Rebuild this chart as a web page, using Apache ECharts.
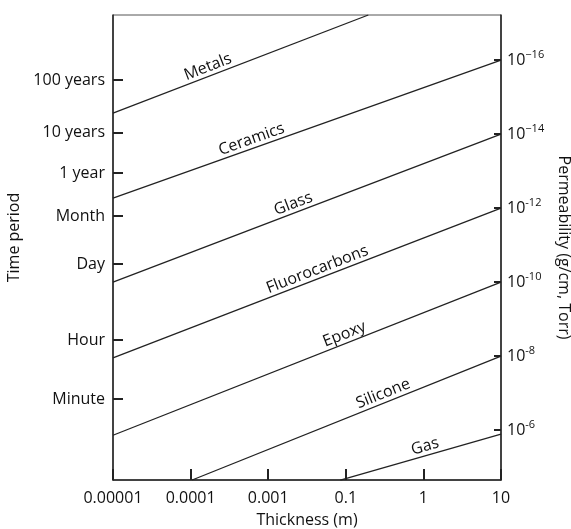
<!DOCTYPE html>
<html>
<head>
<meta charset="utf-8">
<script src="https://cdn.jsdelivr.net/npm/echarts@6/dist/echarts.min.js"></script>
<style>
  html, body { margin: 0; padding: 0; background: #fff; }
  #chart { width: 571px; height: 529px; }
</style>
</head>
<body>
<div id="chart"></div>
<script>
// thickness tick labels (evenly spaced, as in the figure)
const thicknessLabels = ['0.00001', '0.0001', '0.001', '0.1', '1', '10']
// left axis: time period, positioned on the permeability exponent scale
const timeLabels = ['100 years', '10 years', '1 year', 'Month', 'Day', 'Hour', 'Minute']
const timeTicks = [15.46, 14.05, 12.95, 11.78, 10.49, 8.43, 6.84]
// right axis: permeability exponent (10^-n)
const permTicks = [16, 14, 12, 10, 8, 6]
const permLabels = ['−16', '−14', '-12', '-10', '-8', '-6']

const materials = ['Metals', 'Ceramics', 'Glass', 'Fluorocarbons', 'Epoxy', 'Silicone', 'Gas']
// each line: [thickness index, exponent] at start and end
const lineStart = [[0, 14.57], [0, 12.27], [0, 10.0], [0, 7.95], [0, 5.86], [1.02, 4.65], [2.93, 4.65]]
const lineEnd = [[3.29, 17.22], [5, 16], [5, 14], [5, 12], [5, 10], [5, 8], [5, 5.89]]
// where along the thickness axis each name sits
const labelAt = [1.26, 1.82, 2.36, 2.67, 3.02, 3.52, 4.05]

const yMin = 4.65
const yMax = 17.22
const ink = '#222'
const font = '"Open Sans", sans-serif'

const myChart = echarts.init(document.getElementById('chart'))

const pointOn = (i, x) => {
  const a = lineStart[i], b = lineEnd[i]
  return [x, a[1] + (b[1] - a[1]) * (x - a[0]) / (b[0] - a[0])]
}

const buildOption = (angles) => {
  const series = []
  materials.forEach((name, i) => {
    series.push({
      type: 'line',
      name: name,
      data: [lineStart[i], lineEnd[i]],
      symbol: 'none',
      lineStyle: { color: ink, width: 1.3 },
      silent: true,
      z: 3,
    })
    series.push({
      type: 'scatter',
      data: [pointOn(i, labelAt[i])],
      symbolSize: 0,
      silent: true,
      itemStyle: { opacity: 1 },
      label: {
        show: true,
        formatter: name,
        position: 'top',
        distance: 1,
        rotate: angles ? angles[i] : 20,
        color: '#111',
        opacity: 1,
        fontSize: 16,
        fontFamily: font,
      },
    })
  })

  return {
    animation: false,
    grid: {
      left: 113,
      right: 70,
      top: 15,
      bottom: 49,
      outerBoundsMode: 'none',
      show: true,
      borderColor: '#555',
      borderWidth: 1,
    },
    xAxis: {
      type: 'value',
      min: 0,
      max: 5,
      interval: 1,
      name: 'Thickness (m)',
      nameLocation: 'middle',
      nameGap: 32,
      nameTextStyle: { color: '#111', fontSize: 16, fontFamily: font },
      axisLine: { lineStyle: { color: ink, width: 1.5 } },
      axisTick: { inside: true, length: 11, lineStyle: { color: ink, width: 2 } },
      splitLine: { show: false },
      axisLabel: {
        margin: 10,
        color: '#111',
        fontSize: 16,
        fontFamily: font,
        formatter: (v) => thicknessLabels[Math.round(v)],
      },
    },
    yAxis: [
      {
        type: 'value',
        position: 'left',
        min: yMin,
        max: yMax,
        name: 'Time period',
        nameLocation: 'middle',
        nameGap: 85,
        nameTextStyle: { color: '#111', fontSize: 16, fontFamily: font, padding: [0, 0, 0, 20] },
        axisLine: { show: true, lineStyle: { color: ink, width: 1.5 } },
        axisTick: {
          show: true,
          inside: true,
          length: 10,
          customValues: timeTicks,
          lineStyle: { color: ink, width: 2 },
        },
        splitLine: { show: false },
        axisLabel: {
          margin: 8,
          color: '#111',
          fontSize: 16,
          fontFamily: font,
          customValues: timeTicks,
          formatter: (v) => timeLabels[timeTicks.indexOf(v)],
        },
      },
      {
        type: 'value',
        position: 'right',
        min: yMin,
        max: yMax,
        name: 'Permeability (g/cm, Torr)',
        nameLocation: 'middle',
        nameGap: 45,
        nameRotate: -90,
        nameTextStyle: { color: '#111', fontSize: 16, fontFamily: font },
        axisLine: { show: true, lineStyle: { color: ink, width: 1.5 } },
        axisTick: {
          show: true,
          inside: true,
          length: 7,
          customValues: permTicks,
          lineStyle: { color: ink, width: 2 },
        },
        splitLine: { show: false },
        axisLabel: {
          margin: 6,
          customValues: permTicks,
          formatter: (v) => '{b|10}{s|' + permLabels[permTicks.indexOf(v)] + '}',
          rich: {
            b: { color: '#111', fontSize: 16, fontFamily: font },
            s: { color: '#111', fontSize: 11, fontFamily: font, verticalAlign: 'top', padding: [0, 0, 11, 0] },
          },
        },
      },
    ],
    series: series,
  }
}

myChart.setOption(buildOption(null))

// tilt each name to follow its line on screen
const angles = materials.map((_, i) => {
  const p0 = myChart.convertToPixel({ gridIndex: 0 }, lineStart[i])
  const p1 = myChart.convertToPixel({ gridIndex: 0 }, lineEnd[i])
  return Math.atan2(p0[1] - p1[1], p1[0] - p0[0]) * 180 / Math.PI
})
myChart.setOption(buildOption(angles))
</script>
</body>
</html>
